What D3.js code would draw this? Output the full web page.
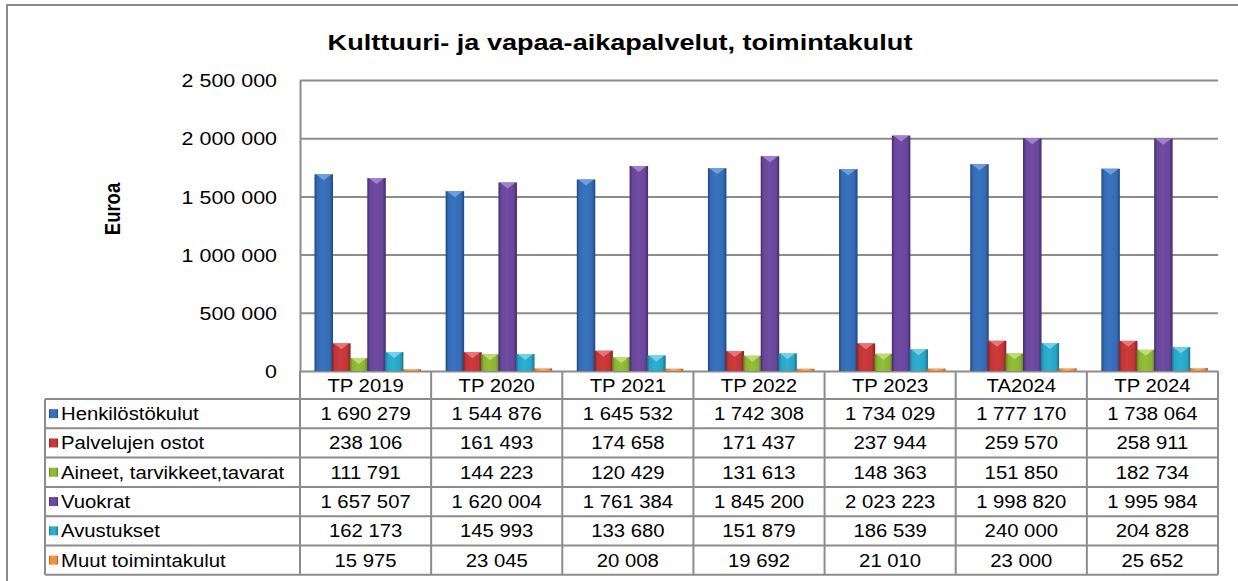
<!DOCTYPE html>
<html>
<head>
<meta charset="utf-8">
<script src="https://cdn.jsdelivr.net/npm/d3@7"></script>
<style>
  html, body { margin: 0; padding: 0; background: #fff; }
  svg text { font-family: "Liberation Sans", Arial, sans-serif; fill: #000; }
</style>
</head>
<body>
<div id="wrapper"></div>
<script>
var categories = ["TP 2019", "TP 2020", "TP 2021", "TP 2022", "TP 2023", "TA2024", "TP 2024"];
var seriesNames = ["Henkilöstökulut", "Palvelujen ostot", "Aineet, tarvikkeet,tavarat", "Vuokrat", "Avustukset", "Muut toimintakulut"];
var henkilosto = [1690279, 1544876, 1645532, 1742308, 1734029, 1777170, 1738064];
var palvelut   = [238106, 161493, 174658, 171437, 237944, 259570, 258911];
var aineet     = [111791, 144223, 120429, 131613, 148363, 151850, 182734];
var vuokrat    = [1657507, 1620004, 1761384, 1845200, 2023223, 1998820, 1995984];
var avustukset = [162173, 145993, 133680, 151879, 186539, 240000, 204828];
var muut       = [15975, 23045, 20008, 19692, 21010, 23000, 25652];
var yTicks = [0, 500000, 1000000, 1500000, 2000000, 2500000];

var values = [henkilosto, palvelut, aineet, vuokrat, avustukset, muut];
// base, dark edge, light cap
var colors = [
  ["#356bb3", "#1d4783", "#7aa6e0"],
  ["#c03637", "#862022", "#ec8080"],
  ["#8ab235", "#5b7b1e", "#c6e27e"],
  ["#684799", "#44296e", "#a88bd6"],
  ["#2aa4c4", "#18738f", "#7fd6ee"],
  ["#f08b3a", "#b65f1c", "#fbc08a"]
];

var W = 1238, H = 581;
var sx = 1.16; // text in the picture is stretched horizontally
var plot = {left: 300, right: 1218, top: 80, bottom: 371};
var headerH = 28, rowH = 29.3, legendLeft = 45;

var loc = d3.formatLocale({decimal: ",", thousands: " ", grouping: [3], currency: ["", " €"]});
var fmt = loc.format(",d");

var svg = d3.select('#wrapper').append('svg')
  .attr('width', W).attr('height', H);

var defs = svg.append('defs');
colors.forEach(function(c, i){
  var g = defs.append('linearGradient').attr('id', 'g' + i)
    .attr('x1', 0).attr('x2', 1).attr('y1', 0).attr('y2', 0);
  g.append('stop').attr('offset', '0%').attr('stop-color', c[1]);
  g.append('stop').attr('offset', '15%').attr('stop-color', c[0]);
  g.append('stop').attr('offset', '45%').attr('stop-color', d3.color(c[0]).brighter(0.2));
  g.append('stop').attr('offset', '82%').attr('stop-color', c[0]);
  g.append('stop').attr('offset', '100%').attr('stop-color', c[1]);
});

function stretchText(sel, x, y, k){
  return sel.attr('transform', 'translate(' + x + ',' + y + ') scale(' + (k || sx) + ',1)');
}

// chart border
svg.append('rect').attr('x', 7).attr('y', 5).attr('width', W + 10).attr('height', H + 10)
  .attr('fill', 'none').attr('stroke', '#8c8c8c').attr('stroke-width', 2);

// title
stretchText(svg.append('text'), 620, 50, 1.23)
  .attr('text-anchor', 'middle').attr('font-size', 22).attr('font-weight', 'bold')
  .text('Kulttuuri- ja vapaa-aikapalvelut, toimintakulut');

// y title
svg.append('text').attr('transform', 'translate(120,209) rotate(-90) scale(1,' + sx + ')')
  .attr('text-anchor', 'middle').attr('font-size', 18.5).attr('font-weight', 'bold')
  .text('Euroa');

var x = d3.scaleBand().domain(categories).range([plot.left, plot.right]);
var y = d3.scaleLinear().domain([0, 2500000]).range([plot.bottom, plot.top]);
var step = 17.6, barW = 18.5, offset = 14.5;
var x1 = d3.scalePoint().domain(seriesNames).range([offset, offset + step * 5]);

// grid + axis
var yAxis = d3.axisLeft(y).tickValues(yTicks).tickSizeInner(-(plot.right - plot.left))
  .tickSizeOuter(0).tickPadding(23).tickFormat(fmt);
var ga = svg.append('g').attr('transform', 'translate(' + plot.left + ',0)').call(yAxis);
ga.select('.domain').attr('stroke', '#8c8c8c').attr('stroke-width', 2);
ga.selectAll('.tick line').attr('stroke', '#8c8c8c').attr('stroke-width', 2);
ga.selectAll('.tick text').attr('font-size', 18.5)
  .attr('font-family', '"Liberation Sans", Arial, sans-serif').attr('fill', '#000')
  .attr('dy', '0.36em')
  .attr('transform', 'scale(' + sx + ',1)')
  .attr('x', -23 / sx);

// bars
values.forEach(function(vals, si){
  var g = svg.append('g');
  var bars = g.selectAll('g').data(vals).enter().append('g');
  bars.append('rect')
    .attr('x', function(d, i){ return x(categories[i]) + x1(seriesNames[si]); })
    .attr('y', function(d){ return y(d); })
    .attr('width', barW)
    .attr('height', function(d){ return y(0) - y(d); })
    .attr('fill', 'url(#g' + si + ')');
  // bevel top cap
  bars.append('path')
    .attr('d', function(d, i){
      var bx = x(categories[i]) + x1(seriesNames[si]), by = y(d);
      var h = Math.min(6, (y(0) - y(d)) * 0.6);
      return 'M' + (bx + 1.5) + ',' + by + 'L' + (bx + barW - 1.5) + ',' + by +
        'L' + (bx + barW / 2) + ',' + (by + h) + 'Z';
    })
    .attr('fill', colors[si][2]).attr('opacity', 0.85);
});

// data table
var tableTop = plot.bottom;
var nRows = seriesNames.length;
var tableBottom = tableTop + headerH + rowH * nRows;
var grid = svg.append('g').attr('stroke', '#8c8c8c').attr('stroke-width', 2).attr('fill', 'none');
// horizontal lines
d3.range(nRows + 1).forEach(function(r){
  var yy = tableTop + headerH + r * rowH;
  grid.append('line').attr('x1', legendLeft).attr('x2', plot.right).attr('y1', yy).attr('y2', yy);
});
// vertical lines
categories.concat(['end']).forEach(function(c, i){
  var xx = i < categories.length ? x(c) : plot.right;
  grid.append('line').attr('x1', xx).attr('x2', xx).attr('y1', tableTop).attr('y2', tableBottom);
});
grid.append('line').attr('x1', legendLeft).attr('x2', legendLeft)
  .attr('y1', tableTop + headerH).attr('y2', tableBottom);

// header labels
categories.forEach(function(c){
  stretchText(svg.append('text'), x(c) + x.bandwidth() / 2, tableTop + headerH / 2 + 6.5)
    .attr('text-anchor', 'middle').attr('font-size', 17.5).text(c);
});

// rows
seriesNames.forEach(function(name, si){
  var cy = tableTop + headerH + si * rowH + rowH / 2;
  svg.append('rect').attr('x', 49).attr('y', cy - 4.5).attr('width', 9).attr('height', 9)
    .attr('fill', 'url(#g' + si + ')');
  stretchText(svg.append('text'), 61, cy + 6.5).attr('font-size', 17.5).text(name);
  values[si].forEach(function(v, ci){
    stretchText(svg.append('text'), x(categories[ci]) + x.bandwidth() / 2, cy + 6.5)
      .attr('text-anchor', 'middle').attr('font-size', 17.5).text(fmt(v));
  });
});
</script>
</body>
</html>
